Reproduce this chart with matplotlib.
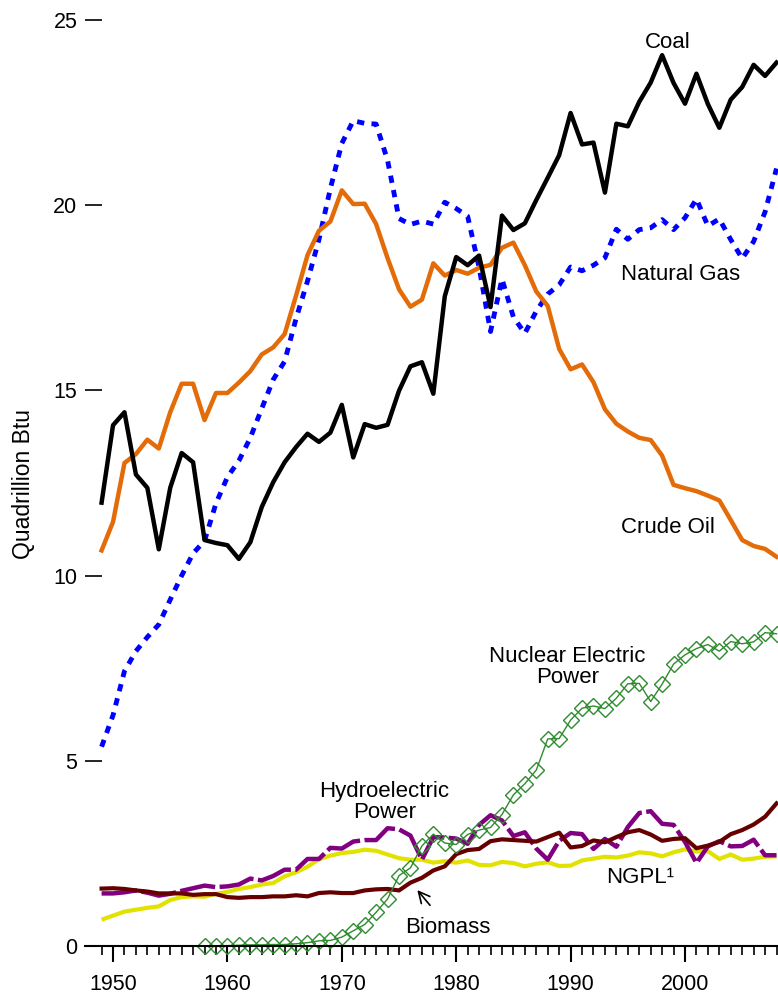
import matplotlib.pyplot as plt
import numpy as np
from matplotlib.ticker import FixedLocator

plt.rcParams['font.family'] = ['Liberation Sans', 'DejaVu Sans']

# data: primary energy production by source, quadrillion Btu
years = list(range(1949, 2009))

coal = [11.97, 14.06, 14.41, 12.73, 12.37, 10.71, 12.37, 13.31, 13.06, 10.96,
        10.88, 10.82, 10.45, 10.90, 11.85, 12.52, 13.06, 13.47, 13.83, 13.61,
        13.86, 14.61, 13.19, 14.09, 13.99, 14.07, 14.99, 15.65, 15.76, 14.91,
        17.54, 18.60, 18.38, 18.64, 17.25, 19.72, 19.33, 19.51, 20.14, 20.74,
        21.35, 22.49, 21.64, 21.69, 20.34, 22.20, 22.13, 22.79, 23.31, 24.05,
        23.30, 22.74, 23.55, 22.73, 22.09, 22.85, 23.19, 23.79, 23.49, 23.85]

natural_gas = [5.38, 6.23, 7.42, 7.96, 8.34, 8.68, 9.35, 10.00, 10.60, 10.94,
               11.95, 12.66, 13.10, 13.72, 14.51, 15.29, 15.78, 16.94, 17.95, 19.07,
               20.45, 21.67, 22.28, 22.21, 22.19, 21.21, 19.64, 19.48, 19.57, 19.49,
               20.08, 19.91, 19.70, 18.32, 16.59, 18.01, 16.98, 16.54, 17.14, 17.60,
               17.85, 18.33, 18.23, 18.38, 18.58, 19.35, 19.08, 19.34, 19.39, 19.61,
               19.34, 19.66, 20.17, 19.44, 19.63, 19.07, 18.56, 19.02, 19.82, 20.99]

crude_oil = [10.68, 11.45, 13.04, 13.28, 13.67, 13.43, 14.41, 15.18, 15.18, 14.20,
             14.93, 14.93, 15.21, 15.52, 15.97, 16.16, 16.52, 17.56, 18.65, 19.31,
             19.56, 20.40, 20.03, 20.04, 19.49, 18.57, 17.73, 17.26, 17.45, 18.43,
             18.10, 18.25, 18.15, 18.31, 18.39, 18.85, 18.99, 18.38, 17.67, 17.28,
             16.12, 15.57, 15.70, 15.22, 14.49, 14.10, 13.89, 13.72, 13.66, 13.24,
             12.45, 12.36, 12.28, 12.16, 12.03, 11.50, 10.96, 10.80, 10.72, 10.51]

ngpl = [0.71, 0.82, 0.93, 0.98, 1.03, 1.07, 1.24, 1.32, 1.34, 1.33,
        1.41, 1.46, 1.54, 1.59, 1.66, 1.70, 1.88, 1.99, 2.14, 2.34,
        2.44, 2.51, 2.54, 2.60, 2.57, 2.47, 2.37, 2.33, 2.33, 2.25,
        2.29, 2.25, 2.31, 2.19, 2.18, 2.27, 2.24, 2.15, 2.22, 2.26,
        2.16, 2.17, 2.31, 2.36, 2.41, 2.39, 2.44, 2.53, 2.50, 2.42,
        2.53, 2.61, 2.55, 2.56, 2.35, 2.47, 2.33, 2.36, 2.41, 2.42]

hydro = [1.42, 1.42, 1.45, 1.50, 1.44, 1.36, 1.41, 1.49, 1.56, 1.63,
         1.59, 1.61, 1.66, 1.82, 1.77, 1.89, 2.06, 2.06, 2.35, 2.35,
         2.65, 2.63, 2.82, 2.86, 2.86, 3.18, 3.15, 2.98, 2.33, 2.94,
         2.93, 2.90, 2.76, 3.27, 3.53, 3.39, 2.97, 3.07, 2.63, 2.33,
         2.84, 3.05, 3.02, 2.62, 2.89, 2.68, 3.21, 3.59, 3.64, 3.30,
         3.27, 2.81, 2.24, 2.69, 2.83, 2.69, 2.70, 2.87, 2.45, 2.45]

biomass = [1.55, 1.56, 1.54, 1.50, 1.47, 1.42, 1.42, 1.42, 1.38, 1.40,
           1.40, 1.32, 1.30, 1.32, 1.32, 1.34, 1.34, 1.37, 1.34, 1.43,
           1.45, 1.43, 1.43, 1.50, 1.53, 1.54, 1.50, 1.71, 1.84, 2.04,
           2.15, 2.48, 2.59, 2.62, 2.83, 2.88, 2.86, 2.84, 2.82, 2.94,
           3.06, 2.66, 2.70, 2.85, 2.80, 2.94, 3.07, 3.13, 3.01, 2.84,
           2.89, 2.91, 2.64, 2.71, 2.81, 3.02, 3.13, 3.28, 3.49, 3.85]

nuc_years = list(range(1958, 2009))
nuclear = [0.00, 0.00, 0.01, 0.02, 0.03, 0.03, 0.04, 0.04, 0.06, 0.09, 0.14,
           0.15, 0.24, 0.41, 0.58, 0.91, 1.27, 1.90, 2.11, 2.70, 3.02,
           2.78, 2.74, 3.01, 3.13, 3.20, 3.55, 4.08, 4.38, 4.75, 5.59,
           5.60, 6.10, 6.42, 6.48, 6.41, 6.69, 7.08, 7.09, 6.60, 7.07,
           7.61, 7.86, 8.03, 8.14, 7.96, 8.22, 8.16, 8.21, 8.46, 8.43]

fig = plt.figure(figsize=(7.78, 9.97), dpi=100)
ax = fig.add_axes([85/778, 51/997, 693/778, 926/997])

# curves
ax.plot(years, ngpl, color="#E2E200", linewidth=3, solid_capstyle='butt')
ax.plot(years, hydro, color="#800080", linewidth=3.2,
        dashes=(8, 1.0), dash_capstyle='butt')
ax.plot(years, biomass, color="#660000", linewidth=3)
ax.plot(nuc_years, nuclear, "D-", color="#2E8B2E", linewidth=1,
        markersize=8, markerfacecolor='none', markeredgewidth=1, clip_on=False)
ax.plot(years, natural_gas, color="#0000FF", linewidth=3.5,
        dashes=(1.5, 1.5), dash_capstyle='butt')
ax.plot(years, crude_oil, color="#E36C09", linewidth=3.2)
ax.plot(years, coal, color="black", linewidth=3.2)

# axes
ax.set_xlim(1947.55, 2008.13)
ax.set_ylim(0, 25)
for s in ['left', 'top', 'right']:
    ax.spines[s].set_visible(False)
ax.spines['bottom'].set_linewidth(1.5)

ax.set_yticks([0, 5, 10, 15, 20, 25])
ax.tick_params(axis='y', direction='in', length=12, width=1.2, pad=5.5,
               labelsize=15.5)
ax.set_xticks([1950, 1960, 1970, 1980, 1990, 2000])
ax.xaxis.set_minor_locator(FixedLocator(list(range(1949, 2009))))
ax.tick_params(axis='x', which='major', direction='out', length=11.5,
               width=1.5, pad=9, labelsize=15.5)
ax.tick_params(axis='x', which='minor', direction='out', length=6.5, width=1.2)

fig.text(24/778, 1 - 484/997, "Quadrillion Btu", rotation=90,
         ha='center', va='center', fontsize=16.5)

# series labels
fs = 16
ax.text(1998.5, 24.4, "Coal", ha='center', va='center', fontsize=fs)
ax.text(1999.65, 18.14, "Natural Gas", ha='center', va='center', fontsize=fs)
ax.text(1998.5, 11.31, "Crude Oil", ha='center', va='center', fontsize=fs)
ax.text(1989.7, 7.53, "Nuclear Electric\nPower", ha='center', va='center',
        fontsize=fs, linespacing=1.05)
ax.text(1973.7, 3.89, "Hydroelectric\nPower", ha='center', va='center',
        fontsize=fs, linespacing=1.05)
ax.text(1996.1, 1.86, "NGPL\u00b9", ha='center', va='center', fontsize=fs)
ax.annotate("Biomass", xy=(1976.6, 1.51), xytext=(1979.3, 0.51),
            ha='center', va='center', fontsize=fs,
            arrowprops=dict(arrowstyle='->', color='black', lw=1.2,
                            shrinkA=8, shrinkB=0, mutation_scale=20))

plt.savefig("out.png", dpi=100)
